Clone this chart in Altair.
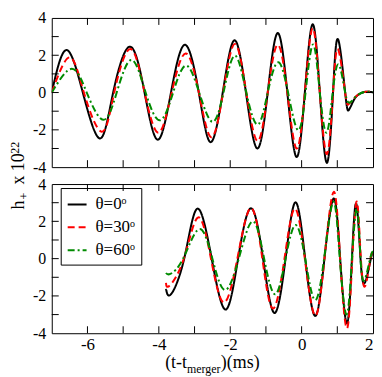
import altair as alt
import pandas as pd

FONT = "Liberation Serif"
W, H, GAP = 323, 150, 17

series_names = ["θ=0ᵒ", "θ=30ᵒ", "θ=60ᵒ"]
series_colors = ["#000000", "#ff0000", "#008b00"]
series_dashes = [[1, 0], [7, 4], [7, 3, 2, 3]]

x_label_values = [-6, -4, -2, 0, 2]
y_label_values = [-4, -2, 0, 2, 4]
x_minor_ticks = [-6, -5, -4, -3, -2, -1, 0, 1]
y_minor_ticks = [-3, -2, -1, 0, 1, 2, 3]

# ---- top panel (full inspiral) ----
top_black_t = [-7.0, -6.59, -6.13, -5.65, -5.28, -4.81, -4.40, -4.03, -3.66, -3.27, -2.88, -2.55,
               -2.21, -1.88, -1.56, -1.24, -0.95, -0.67, -0.40, -0.14, 0.09, 0.31, 0.51, 0.71,
               0.88, 1.02, 1.22, 1.32, 1.45, 1.58, 1.75, 1.90, 2.0]
top_black_h = [0.0, 2.28, 0.0, -2.46, 0.0, 2.46, 0.0, -2.53, 0.0, 2.56, 0.0, -2.66,
               0.0, 2.80, 0.0, -3.00, 0.0, 3.19, 0.0, -3.46, 0.0, 3.66, 0.0, -3.77,
               0.0, 2.86, 0.0, -0.94, -0.45, -0.13, 0.03, 0.04, 0.01]

top_red_t = [-7.0, -6.50, -6.10, -5.60, -5.25, -4.80, -4.40, -4.01, -3.64, -3.25, -2.88, -2.53,
             -2.20, -1.87, -1.55, -1.23, -0.95, -0.67, -0.40, -0.14, 0.09, 0.31, 0.51, 0.71,
             0.88, 1.02, 1.22, 1.32, 1.45, 1.58, 1.75, 1.90, 2.0]
top_red_h = [0.0, 1.89, 0.0, -2.10, 0.0, 2.34, 0.0, -2.15, 0.0, 2.10, 0.0, -2.40,
             0.0, 2.61, 0.0, -2.60, 0.0, 2.56, 0.0, -3.00, 0.0, 3.45, 0.0, -3.30,
             0.0, 2.32, 0.0, -0.62, -0.35, -0.12, 0.03, 0.04, 0.01]

top_green_t = [-7.0, -6.44, -6.02, -5.56, -5.18, -4.77, -4.37, -3.97, -3.60, -3.24, -2.87, -2.50,
               -2.19, -1.87, -1.55, -1.23, -0.95, -0.66, -0.38, -0.10, 0.11, 0.32, 0.51, 0.70,
               0.87, 1.04, 1.22, 1.34, 1.46, 1.58, 1.75, 1.90, 2.0]
top_green_h = [0.0, 1.27, 0.0, -1.46, 0.0, 1.75, 0.0, -1.49, 0.0, 1.45, 0.0, -1.57,
               0.0, 1.98, 0.0, -1.72, 0.0, 1.62, 0.0, -2.02, 0.0, 2.58, 0.0, -2.15,
               0.0, 1.50, 0.0, -0.55, -0.33, -0.12, 0.03, 0.04, 0.01]

# ---- bottom panel (late inspiral) ----
bot_black_t = [-3.80, -3.66, -3.29, -2.92, -2.52, -2.13, -1.78, -1.42, -1.08, -0.76, -0.45, -0.17,
               0.10, 0.38, 0.64, 0.90, 1.08, 1.27, 1.41, 1.53, 1.65, 1.77, 1.94, 2.0]
bot_black_h = [-1.62, -1.91, 0.0, 2.68, 0.0, -2.73, 0.0, 2.70, 0.0, -2.91, 0.0, 3.02,
               0.0, -3.07, 0.0, 3.23, 0.0, -3.46, 0.0, 2.95, 0.0, -1.30, 0.0, 0.26]

bot_red_t = [-3.80, -3.70, -3.30, -2.90, -2.54, -2.18, -1.80, -1.42, -1.10, -0.80, -0.48, -0.19,
             0.09, 0.38, 0.64, 0.90, 1.08, 1.27, 1.42, 1.55, 1.66, 1.78, 1.93, 2.0]
bot_red_h = [-1.30, -1.45, 0.0, 2.21, 0.0, -2.35, 0.0, 2.72, 0.0, -2.68, 0.0, 2.68,
             0.0, -3.06, 0.0, 3.58, 0.0, -3.74, 0.0, 3.05, 0.0, -1.47, 0.0, 0.30]

bot_green_t = [-3.80, -3.68, -3.32, -2.87, -2.50, -2.15, -1.76, -1.37, -1.05, -0.74, -0.45, -0.17,
               0.10, 0.37, 0.63, 0.89, 1.07, 1.26, 1.41, 1.55, 1.65, 1.76, 1.92, 2.0]
bot_green_h = [-0.77, -0.82, 0.0, 1.58, 0.0, -1.68, 0.0, 2.00, 0.0, -1.91, 0.0, 1.80,
               0.0, -2.22, 0.0, 3.05, 0.0, -3.00, 0.0, 2.67, 0.0, -1.15, 0.0, 0.40]


def long_df(parts):
    frames = [pd.DataFrame({"t": t, "h": h, "series": name}) for name, t, h in parts]
    return pd.concat(frames, ignore_index=True)


top_df = long_df([(series_names[0], top_black_t, top_black_h),
                  (series_names[1], top_red_t, top_red_h),
                  (series_names[2], top_green_t, top_green_h)])
bot_df = long_df([(series_names[0], bot_black_t, bot_black_h),
                  (series_names[1], bot_red_t, bot_red_h),
                  (series_names[2], bot_green_t, bot_green_h)])

x_scale = alt.Scale(domain=[-7, 2], nice=False, zero=False)
y_scale = alt.Scale(domain=[-4, 4], nice=False, zero=False)


def x_enc(labels):
    return alt.X("t:Q", scale=x_scale,
                 axis=alt.Axis(values=x_label_values, labels=labels, ticks=False, domain=False,
                               grid=False, title=None, labelPadding=3,
                               labelFont=FONT, labelFontSize=17, labelColor="black",
                               labelExpr="'' + datum.value"))


def y_enc():
    return alt.Y("h:Q", scale=y_scale,
                 axis=alt.Axis(values=y_label_values, ticks=False, domain=False, grid=False,
                               title=None, labelPadding=6, labelFont=FONT, labelFontSize=16,
                               labelColor="black", labelExpr="'' + datum.value"))


one_row = pd.DataFrame({"k": [0]})


def txt(text, x, y, size, angle=0, align="left"):
    return alt.Chart(one_row).mark_text(
        text=text, fontSize=size, font=FONT, angle=angle, align=align,
        baseline="alphabetic", color="black"
    ).encode(x=alt.value(x), y=alt.value(y))


def ticks(labels):
    xt = pd.DataFrame({"t": x_minor_ticks})
    yt = pd.DataFrame({"h": y_minor_ticks})
    r = dict(color="black", strokeWidth=1)
    return [
        alt.Chart(xt).mark_rule(**r).encode(x=x_enc(labels), y=alt.value(0), y2=alt.value(7)),
        alt.Chart(xt).mark_rule(**r).encode(x=x_enc(labels), y=alt.value(H - 7), y2=alt.value(H)),
        alt.Chart(yt).mark_rule(**r).encode(y=y_enc(), x=alt.value(0), x2=alt.value(7)),
        alt.Chart(yt).mark_rule(**r).encode(y=y_enc(), x=alt.value(W - 7), x2=alt.value(W)),
    ]


def lines(df, labels, legend):
    return alt.Chart(df).mark_line(interpolate="natural", strokeWidth=2, clip=True).encode(
        x=x_enc(labels),
        y=y_enc(),
        color=alt.Color("series:N", scale=alt.Scale(domain=series_names, range=series_colors),
                        legend=legend),
        strokeDash=alt.StrokeDash("series:N",
                                  scale=alt.Scale(domain=series_names, range=series_dashes),
                                  legend=legend),
    )


legend = alt.Legend(orient="none", legendX=9, legendY=4, title=None, strokeColor="black",
                    padding=6, symbolType="stroke", symbolSize=360, symbolStrokeWidth=2,
                    labelFont=FONT, labelFontSize=17, labelOffset=8, rowPadding=4,
                    labelColor="black")

c = H + GAP / 2
top_layers = [lines(top_df, False, None)] + ticks(False) + [
    txt("h", -28, c + 34, 18, angle=270),
    txt("+", -24, c + 24, 12, angle=270),
    txt("x 10", -28, c + 9, 18, angle=270),
    txt("22", -33, c - 22, 12, angle=270),
]
top = alt.layer(*top_layers).properties(width=W, height=H)

bot_layers = [lines(bot_df, True, legend)] + ticks(True) + [
    txt("(t-t", 136, H + 35, 18, align="right"),
    txt("merger", 136, H + 40, 12),
    txt(")(ms)", 170, H + 35, 18),
]
bottom = alt.layer(*bot_layers).properties(width=W, height=H)

chart = (
    alt.vconcat(top, bottom, spacing=GAP, bounds="flush")
    .resolve_scale(color="independent", strokeDash="independent")
    .resolve_legend(color="independent", strokeDash="independent")
    .properties(padding=0)
    .configure_view(stroke="black", strokeWidth=1)
)

chart.save("out.html", embed_options={"renderer": "svg", "actions": False})
